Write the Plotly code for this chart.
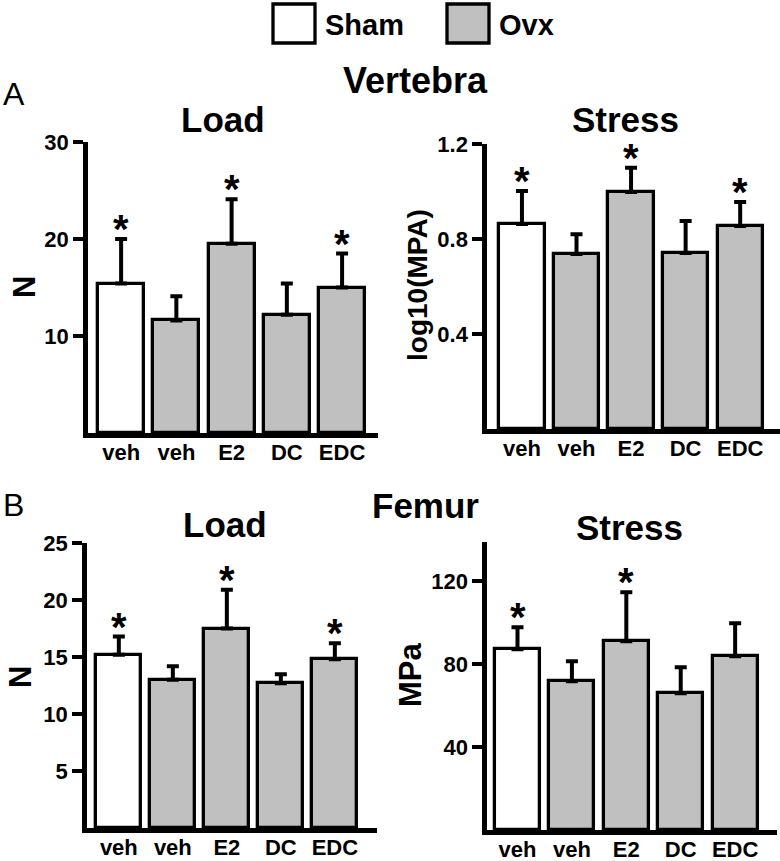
import plotly.graph_objects as go

# ---- data ----
groups = ["veh", "veh", "E2", "DC", "EDC"]
treatment = ["Sham", "Ovx", "Ovx", "Ovx", "Ovx"]
positions = [1, 2, 3, 4, 5]

vert_load = [15.4, 11.6, 19.5, 12.2, 15.0]
vert_load_err = [4.6, 2.5, 4.6, 3.2, 3.5]
vert_load_sig = [True, False, True, False, True]

vert_stress = [0.863, 0.737, 0.998, 0.741, 0.855]
vert_stress_err = [0.139, 0.083, 0.102, 0.135, 0.101]
vert_stress_sig = [True, False, True, False, True]

fem_load = [15.2, 13.0, 17.5, 12.7, 14.8]
fem_load_err = [1.6, 1.2, 3.4, 0.8, 1.4]
fem_load_sig = [True, False, True, False, True]

fem_stress = [87.2, 71.8, 91.1, 66.0, 83.9]
fem_stress_err = [10.6, 9.6, 23.6, 12.6, 15.9]
fem_stress_sig = [True, False, True, False, False]

vert_load_ticks = [10, 20, 30]
vert_stress_ticks = [0.4, 0.8, 1.2]
vert_stress_ticktext = ["0.4", "0.8", "1.2"]
fem_load_ticks = [5, 10, 15, 20, 25]
fem_stress_ticks = [40, 80, 120]

# ---- styling ----
FONT = "Arial, 'Liberation Sans', Helvetica, sans-serif"
GREY = "#c0c0c0"
fill_colors = ["white" if t == "Sham" else GREY for t in treatment]

fig = go.Figure()

panels = [
    ("x", "y", vert_load, vert_load_err, vert_load_sig),
    ("x2", "y2", vert_stress, vert_stress_err, vert_stress_sig),
    ("x3", "y3", fem_load, fem_load_err, fem_load_sig),
    ("x4", "y4", fem_stress, fem_stress_err, fem_stress_sig),
]

annotations = []
for xa, ya, vals, errs, sig in panels:
    fig.add_trace(go.Bar(
        x=positions, y=vals, xaxis=xa, yaxis=ya,
        width=0.83,
        marker=dict(color=fill_colors, line=dict(color="black", width=3.3)),
        error_y=dict(type="data", symmetric=False, array=errs,
                     arrayminus=[0] * len(errs),
                     color="black", thickness=4, width=6),
        showlegend=False, hoverinfo="skip",
    ))
    for p, v, e, s in zip(positions, vals, errs, sig):
        if s:
            annotations.append(dict(
                x=p, y=v + e, xref=xa, yref=ya, text="<b>*</b>",
                showarrow=False, yanchor="bottom", yshift=-14,
                font=dict(family=FONT, size=40, color="black"),
            ))

axis_common = dict(showline=True, linecolor="black", linewidth=4.5,
                   showgrid=False, zeroline=False, fixedrange=True,
                   automargin=False,
                   tickfont=dict(family=FONT, size=22, color="black", weight="bold"))

xcommon = dict(axis_common, tickmode="array", tickvals=positions, ticktext=groups,
               ticks="", ticklen=0, ticklabelstandoff=-4)
ycommon = dict(axis_common, ticks="outside", ticklen=10, tickwidth=4,
               tickcolor="black")

fig.update_layout(
    width=780, height=861, autosize=False,
    margin=dict(l=0, r=0, t=0, b=0, pad=0, autoexpand=False),
    paper_bgcolor="white", plot_bgcolor="white",
    bargap=0,
    xaxis=dict(xcommon, domain=[0.1128, 0.4846], range=[0.40, 5.65], anchor="y"),
    yaxis=dict(ycommon, domain=[0.4971, 0.8351], range=[0, 30], anchor="x",
               tickvals=vert_load_ticks),
    xaxis2=dict(xcommon, domain=[0.6244, 1.0], range=[0.36, 5.73], anchor="y2"),
    yaxis2=dict(ycommon, domain=[0.5017, 0.8328], range=[0, 1.2], anchor="x2",
                tickvals=vert_stress_ticks, ticktext=vert_stress_ticktext),
    xaxis3=dict(xcommon, domain=[0.1115, 0.4833], range=[0.41, 5.78], anchor="y3"),
    yaxis3=dict(ycommon, domain=[0.0383, 0.3693], range=[0, 25], anchor="x3",
                tickvals=fem_load_ticks),
    xaxis4=dict(xcommon, domain=[0.6244, 0.9962], range=[0.44, 5.77], anchor="y4"),
    yaxis4=dict(ycommon, domain=[0.036, 0.3705], range=[0, 139], anchor="x4",
                tickvals=fem_stress_ticks),
)

H = 861.0
def py(px):
    return 1 - px / H

def txt(x, y, text, size, bold=True, angle=0):
    annotations.append(dict(
        x=x / 780.0, y=py(y), xref="paper", yref="paper", text=text,
        showarrow=False, xanchor="center", yanchor="middle", textangle=angle,
        font=dict(family=FONT, size=size, color="black",
                  weight="bold" if bold else "normal"),
    ))

# titles
txt(415, 80, "Vertebra", 36)
txt(426, 506, "Femur", 35)
txt(223, 120, "Load", 35)
txt(625, 120, "Stress", 35)
txt(225, 524, "Load", 35)
txt(629, 527, "Stress", 35)
txt(14, 94, "A", 32, bold=False)
txt(14, 505, "B", 32, bold=False)
# axis titles
txt(25, 287, "N", 31, angle=-90)
txt(418, 285, "log10(MPA)", 28, angle=-90)
txt(20, 677, "N", 31, angle=-90)
txt(410, 675, "MPa", 31, angle=-90)

# legend
legend_items = [("Sham", "white", 273, 323), ("Ovx", GREY, 447, 497)]
shapes = []
for label, col, bx, tx in legend_items:
    shapes.append(dict(type="rect", xref="paper", yref="paper",
                       x0=bx / 780.0, x1=(bx + 42) / 780.0,
                       y0=py(43), y1=py(4),
                       fillcolor=col, line=dict(color="black", width=3.3)))
    annotations.append(dict(
        x=tx / 780.0, y=py(25), xref="paper", yref="paper", text=label,
        showarrow=False, xanchor="left", yanchor="middle",
        font=dict(family=FONT, size=29, color="black", weight="bold"),
    ))

fig.update_layout(annotations=annotations, shapes=shapes)

pin = ("document.body.style.margin='0';document.body.style.padding='0';"
       "var d=document.getElementById('{plot_id}');"
       "d.style.position='absolute';d.style.left='0px';d.style.top='0px';")
fig.write_html("out.html", post_script=pin,
               config={"displayModeBar": False, "responsive": False})
